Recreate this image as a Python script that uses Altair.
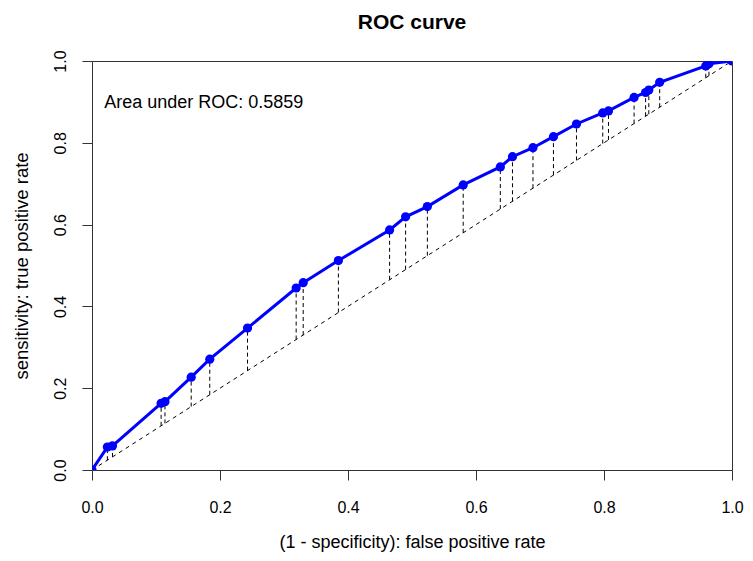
import altair as alt
import pandas as pd

# ROC points
fpr = [0.0, 0.024, 0.032, 0.108, 0.114, 0.155, 0.184, 0.243, 0.319, 0.330,
       0.385, 0.465, 0.490, 0.524, 0.580, 0.638, 0.657, 0.689, 0.721, 0.757,
       0.798, 0.807, 0.847, 0.865, 0.870, 0.887, 0.959, 0.964, 1.0]
tpr = [0.0, 0.056, 0.059, 0.163, 0.167, 0.227, 0.271, 0.347, 0.445, 0.458,
       0.512, 0.587, 0.619, 0.644, 0.697, 0.741, 0.766, 0.788, 0.815, 0.846,
       0.873, 0.878, 0.911, 0.923, 0.929, 0.948, 0.988, 0.993, 1.0]
diag_x = [0.0, 1.0]
ticks = [0.0, 0.2, 0.4, 0.6, 0.8, 1.0]
ann_text = ["Area under ROC: 0.5859"]
ann_x = [0.019]
ann_y = [0.897]

FONT = "Liberation Sans"

roc = pd.DataFrame({"fpr": fpr, "tpr": tpr, "order": list(range(len(fpr)))})
roc["diag"] = roc["fpr"]
diag = pd.DataFrame({"x": diag_x, "y": diag_x})
ann = pd.DataFrame({"x": ann_x, "y": ann_y, "t": ann_text})

xs = alt.Scale(domain=[0, 1], nice=False, zero=False)
ys = alt.Scale(domain=[0, 1], nice=False, zero=False)

xaxis = alt.Axis(values=ticks, format=".1f", grid=False, domain=False,
                 tickSize=10, tickColor="#333333", labelFontSize=16, labelFont=FONT,
                 labelColor="black", labelPadding=19, title="(1 - specificity): false positive rate",
                 titleFont=FONT, titleFontSize=18, titleFontWeight="normal",
                 titleColor="black", titlePadding=18, labelFlush=False)
yaxis = alt.Axis(values=ticks, format=".1f", grid=False, domain=False,
                 tickSize=10, tickColor="#333333", labelFontSize=16, labelFont=FONT,
                 labelColor="black", labelAngle=270, labelAlign="center",
                 labelBaseline="bottom", labelPadding=14, labelFlush=False,
                 title="sensitivity: true positive rate",
                 titleFont=FONT, titleFontSize=18.5, titleFontWeight="normal",
                 titleColor="black", titlePadding=21)

diag_line = alt.Chart(diag).mark_line(color="black", strokeDash=[4, 4], strokeWidth=1, clip=True).encode(
    x=alt.X("x:Q", scale=xs, axis=xaxis),
    y=alt.Y("y:Q", scale=ys, axis=yaxis),
)
rules = alt.Chart(roc).mark_rule(color="black", strokeDash=[4, 3], strokeWidth=1, clip=True).encode(
    x=alt.X("fpr:Q", scale=xs),
    y=alt.Y("diag:Q", scale=ys),
    y2="tpr:Q",
)
line = alt.Chart(roc).mark_line(color="#0000FF", strokeWidth=3, clip=True).encode(
    x=alt.X("fpr:Q", scale=xs),
    y=alt.Y("tpr:Q", scale=ys),
    order="order:Q",
)
pts = alt.Chart(roc).mark_circle(color="#0000FF", size=85, opacity=1, clip=True).encode(
    x=alt.X("fpr:Q", scale=xs),
    y=alt.Y("tpr:Q", scale=ys),
)
txt = alt.Chart(ann).mark_text(align="left", baseline="middle", fontSize=18, font=FONT, color="black").encode(
    x=alt.X("x:Q", scale=xs),
    y=alt.Y("y:Q", scale=ys),
    text="t:N",
)

chart = alt.layer(diag_line, rules, line, pts, txt).properties(
    width=640, height=409,
    title=alt.TitleParams("ROC curve", font=FONT, fontSize=21, fontWeight="bold",
                          anchor="middle", offset=17, color="black"),
    autosize=alt.AutoSizeParams(type="none"),
    padding={"left": 84, "top": 53, "right": 13, "bottom": 83},
).configure(background="white", view=alt.ViewConfig(stroke="#333333", strokeWidth=1))

chart.save("out.html", embed_options={"renderer": "svg", "actions": False})
